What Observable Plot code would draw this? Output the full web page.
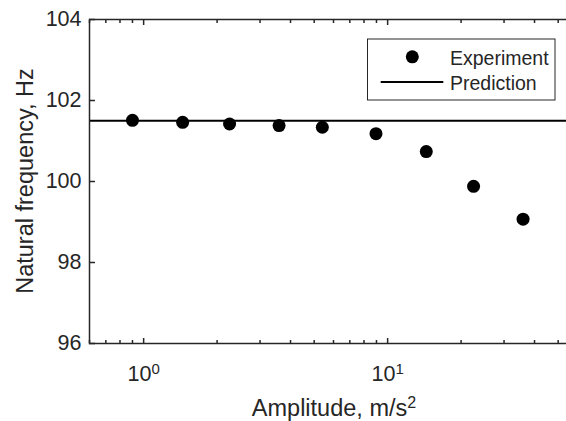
<!DOCTYPE html>
<html><head><meta charset="utf-8">
<script src="https://cdn.jsdelivr.net/npm/d3@7"></script>
<script src="https://cdn.jsdelivr.net/npm/@observablehq/plot@0.6"></script>
<style>
body{margin:0;background:#fff;overflow:hidden}
#wrap{width:566px;height:421px;overflow:hidden;position:relative;background:#fff}
</style></head><body><div id="wrap"></div>
<script>
const amplitude = [0.90, 1.445, 2.25, 3.59, 5.40, 8.96, 14.4, 22.5, 35.9];
const frequency = [101.51, 101.46, 101.42, 101.38, 101.34, 101.18, 100.74, 99.88, 99.07];
const prediction = [101.5];
const xDomain = [0.6, 60];
const yDomain = [96, 104];
const xMajorTicks = [1, 10];
const xMinorTicks = [0.6, 0.7, 0.8, 0.9, 2, 3, 4, 5, 6, 7, 8, 9, 20, 30, 40, 50, 60];
const yTicks = [96, 98, 100, 102, 104];
const xTickBase = ["10", "10"];
const xTickExp = ["0", "1"];
const xLabel = "Amplitude, m/s";
const xLabelSup = "2";
const yLabel = "Natural frequency, Hz";
const legendLabels = ["Experiment", "Prediction"];

const data = amplitude.map((a, i) => ({a, f: frequency[i]}));
const ink = "#262626";
const font = "'Liberation Sans', Arial, Helvetica, sans-serif";

const plot = Plot.plot({
  width: 600, height: 421,
  marginLeft: 89, marginRight: 23, marginTop: 19, marginBottom: 78,
  style: {fontFamily: font, fontSize: "21.5px", color: ink, background: "#fff", maxWidth: "none", overflow: "hidden"},
  x: {type: "log", domain: xDomain},
  y: {domain: yDomain},
  marks: [
    Plot.ruleY(prediction, {stroke: "#000", strokeWidth: 2}),
    Plot.dot(data, {x: "a", y: "f", r: 6.5, fill: "#000", stroke: "none"}),
    Plot.frame({stroke: ink, strokeWidth: 1.5}),
    Plot.axisY({ticks: yTicks, tickSize: -6, tickPadding: 14, label: null, stroke: ink, strokeWidth: 1.5}),
    Plot.axisX({ticks: xMajorTicks, tickSize: -5, stroke: ink, strokeWidth: 1.5, fill: "none", label: null}),
    Plot.axisX({ticks: xMajorTicks, tickSize: 0, tickPadding: 22, tickFormat: (d) => xTickBase[xMajorTicks.indexOf(d)], label: null}),
    Plot.axisX({ticks: xMinorTicks, tickSize: -3, fill: "none", label: null, stroke: ink, strokeWidth: 1.5}),
    Plot.axisX({anchor: "top", ticks: xMajorTicks, tickSize: -5, fill: "none", label: null, stroke: ink, strokeWidth: 1.5}),
    Plot.axisX({anchor: "top", ticks: xMinorTicks, tickSize: -3, fill: "none", label: null, stroke: ink, strokeWidth: 1.5})
  ]
});
document.getElementById("wrap").appendChild(plot);

const svg = d3.select(plot);
// append superscript exponents to the major tick labels, in tick order
const majorLabels = Array.from(plot.querySelectorAll("text")).filter(t => xTickBase.includes(t.textContent));
majorLabels.forEach((t, i) => {
  const sup = document.createElementNS("http://www.w3.org/2000/svg", "tspan");
  sup.setAttribute("dy", "-0.45em");
  sup.setAttribute("font-size", "15px");
  sup.textContent = xTickExp[i] ?? "";
  t.appendChild(sup);
});

// axis labels
svg.append("text")
  .attr("transform", "translate(33,181) rotate(-90)")
  .attr("text-anchor", "middle")
  .attr("font-size", "23.5px")
  .attr("fill", ink)
  .text(yLabel);
const xl = svg.append("text")
  .attr("x", 334).attr("y", 416)
  .attr("text-anchor", "middle")
  .attr("font-size", "23.5px")
  .attr("fill", ink)
  .text(xLabel);
xl.append("tspan").attr("dy", "-0.5em").attr("font-size", "16px").text(xLabelSup);

// legend
const lg = svg.append("g").attr("font-size", "19.5px").attr("fill", ink).attr("text-anchor", "start");
lg.append("rect").attr("x", 367.5).attr("y", 39).attr("width", 187.5).attr("height", 61)
  .attr("fill", "#fff").attr("stroke", ink).attr("stroke-width", 1);
lg.append("circle").attr("cx", 412.3).attr("cy", 56.8).attr("r", 6.5).attr("fill", "#000");
lg.append("line").attr("x1", 380.7).attr("x2", 443.3).attr("y1", 82).attr("y2", 82)
  .attr("stroke", "#000").attr("stroke-width", 2);
lg.append("text").attr("x", 450).attr("y", 64.5).text(legendLabels[0]);
lg.append("text").attr("x", 450).attr("y", 90).text(legendLabels[1]);
</script></body></html>
